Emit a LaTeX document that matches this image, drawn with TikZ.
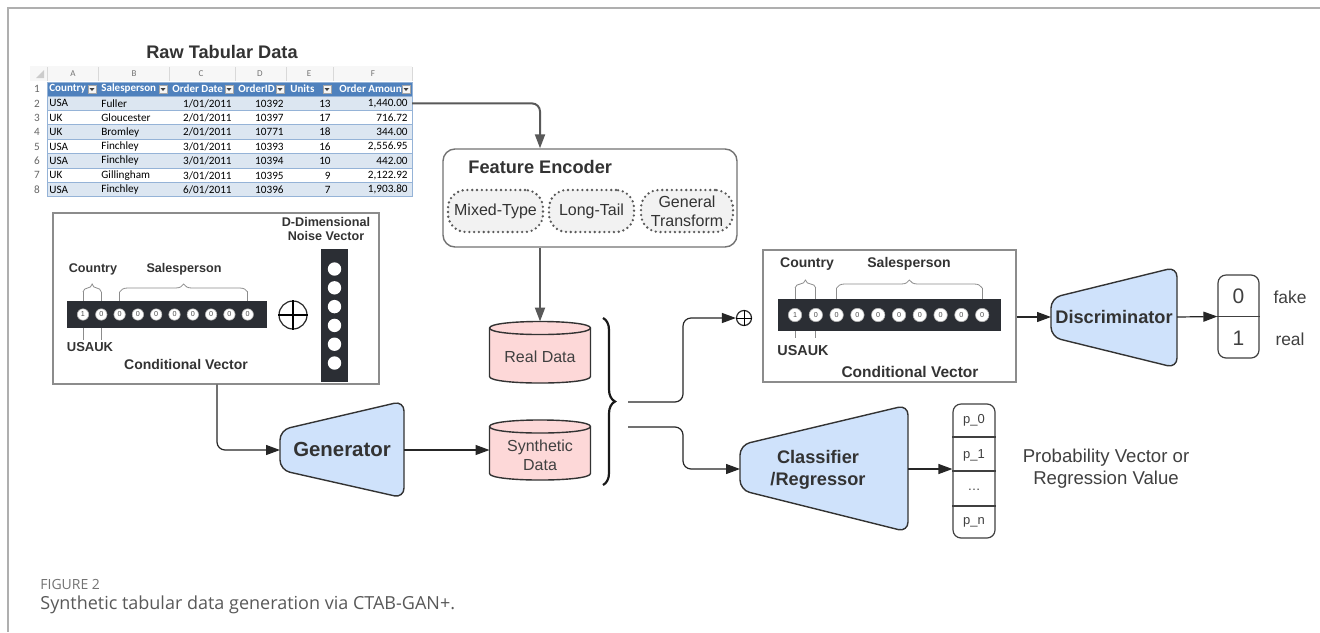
\documentclass[tikz,border=0pt]{standalone}
\usepackage{fontspec}
\setmainfont{Liberation Sans}
\newfontfamily\sheetfont{Carlito}
\newfontfamily\capfont{Open Sans}
\usetikzlibrary{arrows.meta,fit,decorations.pathreplacing}

\definecolor{netblue}{RGB}{207,226,251}
\definecolor{cylpink}{RGB}{253,216,216}
\definecolor{barblack}{RGB}{43,46,52}
\definecolor{hdrblue}{RGB}{79,129,189}
\definecolor{rowblue}{RGB}{220,230,241}
\definecolor{gridblue}{RGB}{149,179,215}
\definecolor{framegray}{RGB}{175,175,175}

\tikzset{
	headline/.style={font=\fontsize{9.1}{11}\selectfont\bfseries, text=black!80},
	netlabel/.style={font=\fontsize{9.1}{11}\selectfont\bfseries, text=black!80},
	net/.style={draw=black!80, line width=0.7pt, fill=netblue, rounded corners=5pt},
	cyl/.style={draw=black!80, line width=0.7pt, fill=cylpink},
	cyltext/.style={font=\fontsize{8}{9.5}\selectfont, text=black!75, align=center},
	flow/.style={->, draw=black!85, line width=0.6pt, rounded corners=4pt},
	feed/.style={->, draw=black!65, line width=1pt, rounded corners=4pt},
	vecbox/.style={draw=black!45, line width=0.6pt},
	bar/.style={fill=barblack},
	guide/.style={draw=black!45, line width=0.4pt},
	oplus/.style={circle, draw=black!85, line width=0.6pt},
	lbl/.style={font=\fontsize{6.3}{7}\selectfont\bfseries, text=black!80},
	bigl/.style={font=\fontsize{7}{8}\selectfont\bfseries, text=black!80},
	bitL/.style={circle, fill=white, draw=black!30, line width=0.3pt, minimum size=5.7pt, font=\fontsize{3.6}{4}\selectfont, text=black!70},
	bitR/.style={bitL, minimum size=6.7pt},
	noisebit/.style={circle, fill=white, minimum size=6.7pt},
	encpart/.style={rounded corners=9pt, draw=black!65, line width=1.3pt, line cap=round, dash pattern=on 0pt off 2.4pt, fill=black!5, minimum height=21pt, font=\fontsize{8}{9.5}\selectfont, text=black!80, align=center},
	outbox/.style={draw=black!75, line width=0.6pt, rounded corners=4pt},
	plain/.style={font=\fontsize{8.7}{11}\selectfont, text=black!75},
	sheetcell/.style={font=\sheetfont\fontsize{5.6}{6}\selectfont, text=black},
	sheethead/.style={font=\sheetfont\fontsize{5.5}{6}\selectfont\bfseries, text=white},
	sheetletter/.style={font=\sheetfont\fontsize{4.5}{5}\selectfont, text=black!55},
}

\begin{document}
\begin{tikzpicture}[x=0.5pt, y=-0.5pt, inner sep=0pt, >={Triangle[length=7pt,width=5pt]}]
	\fill[white] (0,0) rectangle (1320,632);
	\useasboundingbox (0,0) rectangle (1320,632);
	\draw[framegray, line width=0.6pt] (1320,8) -- (8,8) -- (8,632);

	% spreadsheet
	\node[headline] (rawtitle) at (222,52) {Raw Tabular Data};
	\fill[black!3] (30,66) rectangle (412,81);
	\fill[black!20] (44,70) -- (44,78) -- (36,78) -- cycle;
	\foreach \x in {47,98,169,235,286,333,412}
		\draw[black!15, line width=0.3pt] (\x,67) -- (\x,81);
	\foreach \c/\x in {A/73,B/134,C/201,D/260,E/309,F/373}
		\node[sheetletter] (col\c) at (\x,73.5) {\c};
	\foreach \r in {1,...,8}
		\node[sheetcell, text=black!60] (rownum\r) at (37,{89+14.4*(\r-1)}) {\r};
	\fill[hdrblue] (47,82) rectangle (412,96);
	\foreach \t/\x/\e [count=\k] in {Country/49/98, Salesperson/101/169, Order Date/172/235, OrderID/238/286, Units/290/333, Order Amount/339/412} {
		\node[sheethead, anchor=west] (head\k) at (\x,89) {\t};
		\draw[draw=black!35, fill=black!4, line width=0.3pt] ({\e-10},85) rectangle ({\e-2},93);
		\fill[black!75] ({\e-8.5},88) -- ({\e-3.5},88) -- ({\e-6},91) -- cycle;
	}
	\foreach \r/\fc/\ct/\sp/\dt/\id/\un/\am in {
		2/rowblue/USA/Fuller/{1/01/2011}/10392/13/{1,440.00},
		3/white/UK/Gloucester/{2/01/2011}/10397/17/716.72,
		4/rowblue/UK/Bromley/{2/01/2011}/10771/18/344.00,
		5/white/USA/Finchley/{3/01/2011}/10393/16/{2,556.95},
		6/rowblue/USA/Finchley/{3/01/2011}/10394/10/442.00,
		7/white/UK/Gillingham/{3/01/2011}/10395/9/{2,122.92},
		8/rowblue/USA/Finchley/{6/01/2011}/10396/7/{1,903.80}} {
		\pgfmathsetmacro\ry{103.4+14.4*(\r-2)}
		\fill[\fc] (47,{\ry-7.2}) rectangle (412,{\ry+7.2});
		\node[sheetcell, anchor=west] (cell-\r-a) at (49,\ry) {\ct};
		\node[sheetcell, anchor=west] (cell-\r-b) at (101,\ry) {\sp};
		\node[sheetcell, anchor=east] (cell-\r-c) at (232,\ry) {\dt};
		\node[sheetcell, anchor=east] (cell-\r-d) at (284,\ry) {\id};
		\node[sheetcell, anchor=east] (cell-\r-e) at (331,\ry) {\un};
		\node[sheetcell, anchor=east] (cell-\r-f) at (408,\ry) {\am};
	}
	\foreach \r in {2,...,8}
		\draw[gridblue, line width=0.4pt] (47,{96+14.4*(\r-2)}) -- (412,{96+14.4*(\r-2)});
	\draw[gridblue, line width=0.5pt] (47,82) rectangle (412,196.8);
	\coordinate (tabout) at (412,103.4);

	% feature encoder
	\node[draw=black!55, line width=0.7pt, rounded corners=6pt, fit={(443,149) (737,247)}] (enc) {};
	\node[headline, anchor=west] (enctitle) at (468,167) {Feature Encoder};
	\node[encpart, minimum width=47.5pt] (mixed) at (495.5,211) {Mixed-Type};
	\node[encpart, minimum width=42.5pt] (longtail) at (591.5,211) {Long-Tail};
	\node[encpart, minimum width=46pt] (general) at (687,211) {General\\Transform};

	% conditional vector + noise (generator side)
	\node[vecbox, fit={(53,213) (379,384)}] (condL) {};
	\node[bar, fit={(67,301) (267,328)}] (barL) {};
	\foreach \b [count=\i from 0] in {1,0,0,0,0,0,0,0,0,0}
		\node[bitL] (lbit\i) at ({83+18.3*\i},314.5) {\b};
	\draw[guide, decorate, decoration={brace, amplitude=4pt}] (lbit0 |- 0,292) -- (lbit1 |- 0,292);
	\draw[guide, decorate, decoration={brace, amplitude=4pt}] (lbit2 |- 0,292) -- (lbit9 |- 0,292);
	\foreach \i in {0,1,2,9}
		\draw[guide] (lbit\i |- 0,292) -- (lbit\i |- barL.north);
	\foreach \i in {0,1}
		\draw[guide] (lbit\i |- barL.south) -- ++(0,12);
	\node[lbl] (cntL) at (93,269) {Country};
	\node[lbl] (salesL) at (184,269) {Salesperson};
	\node[lbl, font=\fontsize{6.5}{7}\selectfont\bfseries] (usaukL) at (90,347) {USAUK};
	\node[bigl] (cvL) at (186,364) {Conditional Vector};
	\node[oplus, minimum size=14pt] (plusL) at (293,315) {};
	\draw[line width=0.6pt] (plusL.north) -- (plusL.south) (plusL.west) -- (plusL.east);
	\node[bar, fit={(321,249) (348,382)}] (noise) {};
	\foreach \i in {0,1,2,3,4,5}
		\node[noisebit] (nz\i) at (334.5,{269+18.8*\i}) {};
	\node[lbl, align=center] (noiseL) at (326,229) {D-Dimensional\\Noise Vector};

	% generator
	\draw[net] (280,430) -- (404,401) -- (404,498) -- (280,470) -- cycle;
	\node[netlabel, font=\fontsize{10.2}{12}\selectfont\bfseries] (gen) at (342,449) {Generator};
	\coordinate (genin) at (280,450);
	\coordinate (genout) at (404,450);

	% data stores
	\draw[cyl] (489.5,328) -- (489.5,376.5) .. controls (489.5,385.2) and (590.5,385.2) .. (590.5,376.5)
		-- (590.5,328) .. controls (590.5,319.3) and (489.5,319.3) .. cycle;
	\draw[cyl, fill=none] (489.5,328) .. controls (489.5,336.7) and (590.5,336.7) .. (590.5,328);
	\node[cyltext] (real) at (540,357) {Real Data};
	\coordinate (realtop) at (540,321.5);
	\draw[cyl] (489.5,426.5) -- (489.5,473.5) .. controls (489.5,482.2) and (590.5,482.2) .. (590.5,473.5)
		-- (590.5,426.5) .. controls (590.5,417.8) and (489.5,417.8) .. cycle;
	\draw[cyl, fill=none] (489.5,426.5) .. controls (489.5,435.2) and (590.5,435.2) .. (590.5,426.5);
	\node[cyltext] (synth) at (540,455) {Synthetic\\Data};
	\coordinate (synthin) at (489.5,450);

	\draw[black!90, line width=1.1pt, decorate, decoration={brace, amplitude=6pt}] (603,318) -- (603,485);
	\coordinate (bro1) at (628,402);
	\coordinate (bro2) at (628,427);

	% conditional vector (discriminator side)
	\node[oplus, minimum size=7.5pt] (plusR) at (744,318) {};
	\draw[line width=0.5pt] (plusR.north) -- (plusR.south) (plusR.west) -- (plusR.east);
	\node[vecbox, fit={(763,250) (1016,382)}] (condR) {};
	\node[bar, fit={(778,299) (1001,331)}] (barR) {};
	\foreach \b [count=\i from 0] in {1,0,0,0,0,0,0,0,0,0}
		\node[bitR] (rbit\i) at ({795+20.8*\i},315) {\b};
	\draw[guide, decorate, decoration={brace, amplitude=4pt}] (rbit0 |- 0,288) -- (rbit1 |- 0,288);
	\draw[guide, decorate, decoration={brace, amplitude=4pt}] (rbit2 |- 0,288) -- (rbit9 |- 0,288);
	\foreach \i in {0,1,2,9}
		\draw[guide] (rbit\i |- 0,288) -- (rbit\i |- barR.north);
	\foreach \i in {0,1}
		\draw[guide] (rbit\i |- barR.south) -- ++(0,7);
	\node[bigl] (cntR) at (807,264) {Country};
	\node[bigl] (salesR) at (909,264) {Salesperson};
	\node[bigl, font=\fontsize{7.2}{8}\selectfont\bfseries] (usaukR) at (803,351) {USAUK};
	\node[bigl, font=\fontsize{7.75}{9}\selectfont\bfseries] (cvR) at (910,372) {Conditional Vector};

	% discriminator
	\draw[net] (1051,298) -- (1177,267) -- (1177,368) -- (1051,337) -- cycle;
	\node[netlabel] (disc) at (1114,317) {Discriminator};
	\coordinate (discin) at (1051,317);
	\coordinate (discout) at (1177,317);
	\node[outbox, fit={(1218,275) (1259,358)}] (verdict) {};
	\draw[black!75, line width=0.6pt] (verdict.west) -- (verdict.east);
	\node[plain, font=\fontsize{10.5}{12}\selectfont] (zero) at (1238.5,296) {0};
	\node[plain, font=\fontsize{10.5}{12}\selectfont] (one) at (1238.5,338) {1};
	\node[plain] (fakelbl) at (1290,297) {fake};
	\node[plain] (reallbl) at (1290,339) {real};

	% classifier
	\draw[net] (740,445) -- (908,405) -- (908,532) -- (740,490) -- cycle;
	\node[netlabel, align=center] (cls) at (818,470) {Classifier\\/Regressor};
	\coordinate (clsin) at (740,469);
	\coordinate (clsout) at (908,469);
	\node[outbox, fit={(953,404) (995,538)}] (prob) {};
	\foreach \yy in {437,471,506}
		\draw[black!75, line width=0.6pt] (prob.west |- 0,\yy) -- (prob.east |- 0,\yy);
	\foreach \t/\yy [count=\k] in {p\_0/420, p\_1/455, \ldots/490, p\_n/522}
		\node[plain, font=\fontsize{6.5}{7}\selectfont] (pcell\k) at (974,\yy) {\t};
	\node[plain, font=\fontsize{9.3}{11}\selectfont, align=center] (problbl) at (1106,469) {Probability Vector or\\Regression Value};

	% connectors
	\draw[feed] (tabout) -| (enc.north -| realtop);
	\draw[feed] (enc.south -| realtop) -- (realtop);
	\draw[flow] (condL.south -| 217,0) |- (genin);
	\draw[flow] (genout) -- (synthin);
	\draw[flow] (bro1) -- ++(55,0) |- (plusR);
	\draw[flow] (bro2) -- ++(55,0) |- (clsin);
	\draw[flow] (condR.east |- discin) -- (discin);
	\draw[flow] (discout) -- (verdict.west);
	\draw[flow] (clsout) -- (prob.west |- clsout);

	% caption
	\node[anchor=west, font=\capfont\fontsize{7}{8}\selectfont, text=black!55] (figno) at (40,584) {FIGURE 2};
	\node[anchor=west, font=\capfont\fontsize{9}{11}\selectfont, text=black!65] (figcap) at (40,605) {Synthetic tabular data generation via CTAB-GAN+.};
\end{tikzpicture}
\end{document}
